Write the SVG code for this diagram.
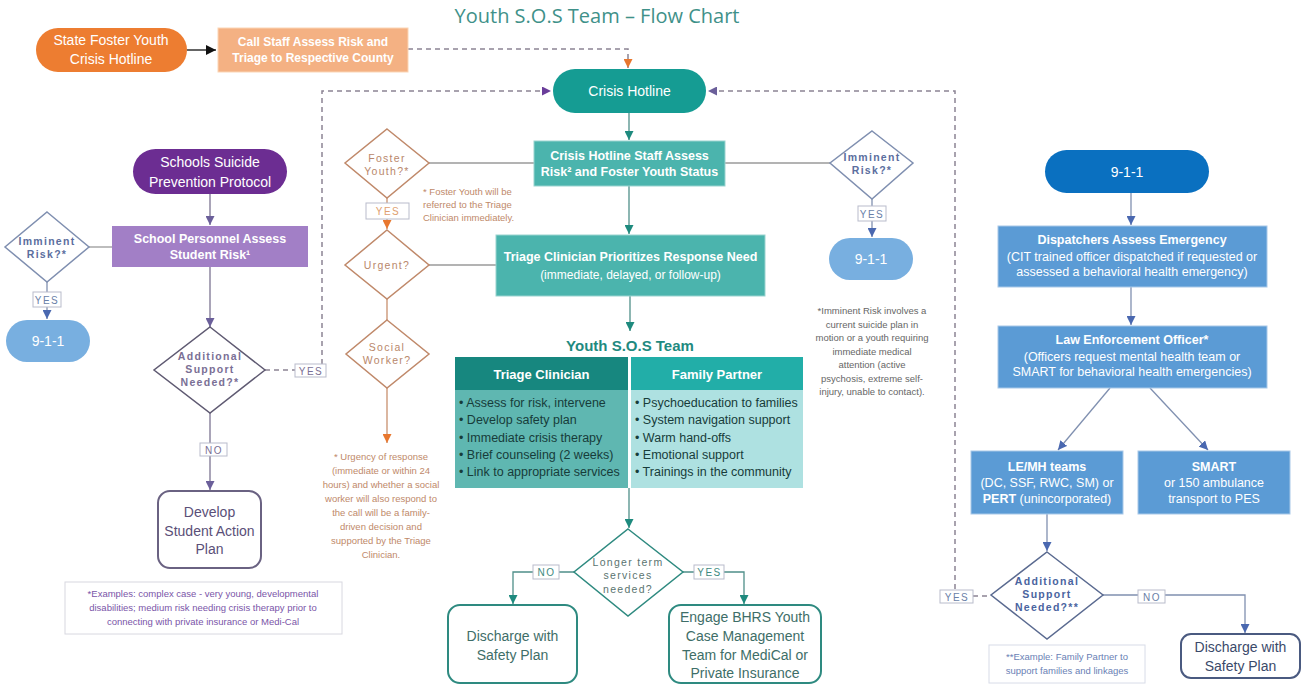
<svg xmlns="http://www.w3.org/2000/svg" width="1302" height="687" viewBox="0 0 1302 687">
<defs>
<style>
text{font-family:"Liberation Sans Narrow","Liberation Sans",Arial,sans-serif}
.m{text-anchor:middle}
.w{fill:#fff}
.b{font-weight:bold}
.dash{fill:none;stroke:#8c8494;stroke-width:1.5;stroke-dasharray:5 4}
.ln{fill:none;stroke:#9a9a9a;stroke-width:1.3}
.teal{fill:none;stroke:#4f8f89;stroke-width:1.3}
.pur{fill:none;stroke:#7b7391;stroke-width:1.3}
.org{fill:none;stroke:#c8906e;stroke-width:1.3}
.blu{fill:none;stroke:#8090b0;stroke-width:1.3}
.lbl{fill:#fff;stroke:#b9bccb;stroke-width:1}
.lt{font-size:10px;letter-spacing:1.5px;text-anchor:middle}
.dt{font-size:10.5px;letter-spacing:1.3px;text-anchor:middle}
.note{font-size:9.5px;text-anchor:middle}
.body{font-size:12.5px;fill:#173c3a}
</style>
<marker id="aK" markerUnits="userSpaceOnUse" markerWidth="10" markerHeight="10" refX="10" refY="5" orient="auto"><path d="M0,0L10,5L0,10z" fill="#111"/></marker>
<marker id="aO" markerUnits="userSpaceOnUse" markerWidth="9" markerHeight="9" refX="9" refY="4.5" orient="auto"><path d="M0,0L9,4.5L0,9z" fill="#e8772e"/></marker>
<marker id="aP" markerUnits="userSpaceOnUse" markerWidth="9" markerHeight="9" refX="9" refY="4.5" orient="auto"><path d="M0,0L9,4.5L0,9z" fill="#6a3d9a"/></marker>
<marker id="aV" markerUnits="userSpaceOnUse" markerWidth="9" markerHeight="9" refX="9" refY="4.5" orient="auto"><path d="M0,0L9,4.5L0,9z" fill="#6b5f9a"/></marker>
<marker id="aT" markerUnits="userSpaceOnUse" markerWidth="9" markerHeight="9" refX="9" refY="4.5" orient="auto"><path d="M0,0L9,4.5L0,9z" fill="#1e8a7e"/></marker>
<marker id="aB" markerUnits="userSpaceOnUse" markerWidth="9" markerHeight="9" refX="9" refY="4.5" orient="auto"><path d="M0,0L9,4.5L0,9z" fill="#4a68b0"/></marker>
</defs>
<rect width="1302" height="687" fill="#fff"/>
<text x="597" y="23" class="m" style="font-family:'Open Sans',sans-serif;font-size:20px;fill:#3f9189">Youth S.O.S Team – Flow Chart</text>

<g id="connectors">
<path class="ln" d="M187,50H216" stroke="#111" style="stroke:#111" marker-end="url(#aK)"/>
<path class="dash" d="M408,49H628V68" marker-end="url(#aO)"/>
<path class="dash" d="M322,364V91H551" marker-end="url(#aP)"/>
<path class="dash" d="M955,589V91H708" marker-end="url(#aV)"/>
<path class="dash" d="M265,370H295"/>
<path class="dash" d="M973,596H991"/>
<path class="teal" d="M629,113V140" marker-end="url(#aT)"/>
<path class="teal" d="M629,186V234" marker-end="url(#aT)"/>
<path class="teal" d="M630,296V331" marker-end="url(#aT)"/>
<path class="ln" d="M534,163H429"/>
<path class="ln" d="M725,163H830"/>
<path class="ln" d="M429,265H496"/>
<path class="org" d="M387,198V229" marker-end="url(#aO)"/>
<path class="org" d="M387,299V320"/>
<path class="org" d="M387,388V443" marker-end="url(#aO)"/>
<path class="blu" d="M872,199V237" marker-end="url(#aB)"/>
<path class="blu" d="M47,282V319" marker-end="url(#aB)"/>
<path class="ln" d="M89,247H112"/>
<path class="pur" d="M210,194V225" marker-end="url(#aV)"/>
<path class="pur" d="M210,267V327" marker-end="url(#aV)"/>
<path class="pur" d="M210,413V490" marker-end="url(#aV)"/>
<path class="teal" d="M629,488V528" marker-end="url(#aT)"/>
<path class="teal" d="M574,572H513V604" marker-end="url(#aT)"/>
<path class="teal" d="M683,572H744V604" marker-end="url(#aT)"/>
<path class="blu" d="M1131,193V225" marker-end="url(#aB)"/>
<path class="blu" d="M1131,287V325" marker-end="url(#aB)"/>
<path class="blu" d="M1110,388L1058,450" marker-end="url(#aB)"/>
<path class="blu" d="M1150,388L1208,450" marker-end="url(#aB)"/>
<path class="blu" d="M1047,514V551" marker-end="url(#aB)"/>
<path class="blu" d="M1103,595H1245V633" marker-end="url(#aB)"/>
<rect class="lbl" x="33" y="292" width="28" height="15"/><text x="47" y="303.5" class="lt" fill="#6a7fa8">YES</text>
<rect class="lbl" x="366" y="203" width="43" height="16"/><text x="388" y="215" class="lt" fill="#e0a070">YES</text>
<rect class="lbl" x="858" y="206" width="28" height="15"/><text x="872" y="217.5" class="lt" fill="#6a7fa8">YES</text>
<rect class="lbl" x="295" y="364" width="31" height="13"/><text x="311" y="374.5" class="lt" fill="#7a6f95">YES</text>
<rect class="lbl" x="200" y="443" width="27" height="13"/><text x="214" y="453.5" class="lt" fill="#7a6f95">NO</text>
<rect class="lbl" x="533" y="565" width="26" height="14"/><text x="546.5" y="576" class="lt" fill="#3e8a80">NO</text>
<rect class="lbl" x="694" y="565" width="30" height="14"/><text x="709.5" y="576" class="lt" fill="#3e8a80">YES</text>
<rect class="lbl" x="940" y="590" width="33" height="13"/><text x="957" y="600.5" class="lt" fill="#6a7fa8">YES</text>
<rect class="lbl" x="1138" y="590" width="27" height="13"/><text x="1152" y="600.5" class="lt" fill="#6a7fa8">NO</text>
</g>

<g id="state-foster-hotline"><rect x="36" y="28" width="151" height="44" rx="22" fill="#ed7d31"/><text x="111" y="45" class="m w" font-size="14">State Foster Youth</text><text x="111" y="64" class="m w" font-size="14">Crisis Hotline</text></g>
<g id="call-staff"><rect x="218" y="28" width="190" height="44" fill="#f4b183" stroke="#fbd5b5"/><text x="313" y="46" class="m w b" font-size="12">Call Staff Assess Risk and</text><text x="313" y="62" class="m w b" font-size="12">Triage to Respective County</text></g>
<g id="crisis-hotline"><rect x="553" y="69" width="153" height="44" rx="22" fill="#159c93"/><text x="629.5" y="96" class="m w" font-size="14">Crisis Hotline</text></g>
<g id="crisis-staff-assess"><rect x="534" y="141" width="191" height="45" fill="#4bb4ad" stroke="#9ad3cf"/><text x="629.5" y="160" class="m w b" font-size="12.5">Crisis Hotline Staff Assess</text><text x="629.5" y="176" class="m w b" font-size="12.5">Risk² and Foster Youth Status</text></g>
<g id="foster-youth"><polygon points="387,129 429,163 387,198 345,163" fill="#fff" stroke="#c0896a" stroke-width="1.5"/><text x="387" y="162" class="dt" fill="#b9876b">Foster</text><text x="387" y="175" class="dt" fill="#b9876b">Youth?*</text></g>
<g id="foster-note"><text x="423" y="195" font-size="9.5" fill="#c0896a">* Foster Youth will be</text><text x="423" y="208" font-size="9.5" fill="#c0896a">referred to the Triage</text><text x="423" y="221" font-size="9.5" fill="#c0896a">Clinician immediately.</text></g>
<g id="urgent"><polygon points="387,230 429,265 387,299 345,265" fill="#fff" stroke="#c0896a" stroke-width="1.5"/><text x="387" y="269" class="dt" fill="#b9876b">Urgent?</text></g>
<g id="social-worker"><polygon points="387,320 429,354 387,388 346,354" fill="#fff" stroke="#c0896a" stroke-width="1.5"/><text x="387" y="351" class="dt" fill="#b9876b">Social</text><text x="387" y="364" class="dt" fill="#b9876b">Worker?</text></g>
<g id="urgency-note" fill="#c0896a"><text x="381" y="460" class="note">* Urgency of response</text><text x="381" y="474" class="note">(immediate or within 24</text><text x="381" y="488" class="note">hours) and whether a social</text><text x="381" y="502" class="note">worker will  also respond to</text><text x="381" y="516" class="note">the call will  be a family-</text><text x="381" y="530" class="note">driven decision and</text><text x="381" y="544" class="note">supported by the Triage</text><text x="381" y="558" class="note">Clinician.</text></g>
<g id="triage-prioritizes"><rect x="496" y="235" width="269" height="61" fill="#4bb4ad" stroke="#9ad3cf"/><text x="630.5" y="261" class="m w b" font-size="12.5">Triage Clinician Prioritizes Response Need</text><text x="630.5" y="279" class="m w" font-size="12">(immediate, delayed, or follow-up)</text></g>
<g id="imminent-risk-center"><polygon points="872,131 913,163 872,199 830,163" fill="#fff" stroke="#7f8fb0" stroke-width="1.5"/><text x="872" y="161" class="dt b" fill="#5b6e9e">Imminent</text><text x="872" y="174" class="dt b" fill="#5b6e9e">Risk?*</text></g>
<g id="n911-center"><rect x="829" y="238" width="84" height="42" rx="21" fill="#78afe0"/><text x="871" y="264" class="m w" font-size="14">9-1-1</text></g>
<g id="imminent-note" fill="#666"><text x="872" y="314" class="note">*Imminent Risk involves a</text><text x="872" y="327.5" class="note">current suicide plan in</text><text x="872" y="341" class="note">motion or a youth requiring</text><text x="872" y="354.5" class="note">immediate medical</text><text x="872" y="368" class="note">attention  (active</text><text x="872" y="381.5" class="note">psychosis, extreme self-</text><text x="872" y="395" class="note">injury, unable to contact).</text></g>
<g id="youth-sos-team">
<text x="630" y="351" class="m b" font-size="15" fill="#1f8a80">Youth S.O.S Team</text>
<rect x="455" y="357" width="173" height="33" fill="#17877f"/><rect x="631" y="357" width="172" height="33" fill="#22aea8"/>
<rect x="455" y="390" width="173" height="98" fill="#5fb7b1"/><rect x="631" y="390" width="172" height="98" fill="#aee1e1"/>
<text x="541.5" y="379" class="m w b" font-size="13">Triage Clinician</text><text x="717" y="379" class="m w b" font-size="13">Family Partner</text>
<text x="459" y="407" class="body">• Assess for risk, intervene</text><text x="459" y="424" class="body">• Develop safety plan</text><text x="459" y="441.5" class="body">• Immediate crisis therapy</text><text x="459" y="459" class="body">• Brief counseling (2 weeks)</text><text x="459" y="476" class="body">• Link to appropriate services</text>
<text x="635" y="407" class="body">• Psychoeducation to families</text><text x="635" y="424" class="body">• System navigation support</text><text x="635" y="441.5" class="body">• Warm hand-offs</text><text x="635" y="459" class="body">• Emotional support</text><text x="635" y="476" class="body">• Trainings in the community</text>
</g>
<g id="longer-term"><polygon points="628,529 683,572 628,616 574,572" fill="#fff" stroke="#2e8a80" stroke-width="1.5"/><text x="628" y="566" class="dt" fill="#5a7470">Longer term</text><text x="628" y="579" class="dt" fill="#5a7470">services</text><text x="628" y="593" class="dt" fill="#5a7470">needed?</text></g>
<g id="discharge-center"><rect x="448" y="605" width="129" height="78" rx="12" fill="#fff" stroke="#2e8a80" stroke-width="2"/><text x="512.5" y="641" class="m" font-size="14" fill="#3e6e68">Discharge with</text><text x="512.5" y="660" class="m" font-size="14" fill="#3e6e68">Safety Plan</text></g>
<g id="engage-bhrs"><rect x="669" y="605" width="152" height="78" rx="12" fill="#fff" stroke="#2e8a80" stroke-width="2"/><text x="745" y="622" class="m" font-size="14" fill="#3e6e68">Engage BHRS Youth</text><text x="745" y="641" class="m" font-size="14" fill="#3e6e68">Case Management</text><text x="745" y="660" class="m" font-size="14" fill="#3e6e68">Team for MediCal or</text><text x="745" y="678" class="m" font-size="14" fill="#3e6e68">Private Insurance</text></g>
<g id="schools-protocol"><rect x="133" y="149" width="154" height="45" rx="22.5" fill="#6c2d92"/><text x="210" y="167" class="m w" font-size="14">Schools Suicide</text><text x="210" y="187" class="m w" font-size="14">Prevention Protocol</text></g>
<g id="school-personnel"><rect x="112" y="226" width="196" height="41" fill="#a27fc6"/><text x="210" y="243" class="m w b" font-size="12.5">School Personnel Assess</text><text x="210" y="259" class="m w b" font-size="12.5">Student Risk¹</text></g>
<g id="imminent-risk-left"><polygon points="47,212 89,247 47,282 5,247" fill="#fff" stroke="#7f8fb0" stroke-width="1.5"/><text x="47" y="245" class="dt b" fill="#5b6e9e">Imminent</text><text x="47" y="258" class="dt b" fill="#5b6e9e">Risk?*</text></g>
<g id="n911-left"><rect x="6" y="320" width="84" height="42" rx="21" fill="#78afe0"/><text x="48" y="346" class="m w" font-size="14">9-1-1</text></g>
<g id="additional-left"><polygon points="210,327 265,370 210,413 154,370" fill="#fff" stroke="#5f5a72" stroke-width="1.5"/><text x="210" y="360" class="dt b" fill="#7a6f95">Additional</text><text x="210" y="373" class="dt b" fill="#7a6f95">Support</text><text x="210" y="386" class="dt b" fill="#7a6f95">Needed?*</text></g>
<g id="student-action-plan"><rect x="158" y="491" width="103" height="77" rx="12" fill="#fff" stroke="#6a6282" stroke-width="2"/><text x="209.5" y="517" class="m" font-size="14" fill="#5a4f78">Develop</text><text x="209.5" y="536" class="m" font-size="14" fill="#5a4f78">Student Action</text><text x="209.5" y="554" class="m" font-size="14" fill="#5a4f78">Plan</text></g>
<g id="examples-left"><rect x="65" y="582" width="277" height="52" fill="#fff" stroke="#d8d8e0"/><text x="203" y="597" class="note" fill="#7a55a8">*Examples: complex case - very young, developmental</text><text x="203" y="611" class="note" fill="#7a55a8">disabilities; medium risk needing crisis therapy prior to</text><text x="203" y="625" class="note" fill="#7a55a8">connecting with private insurance or Medi-Cal</text></g>
<g id="n911-right"><rect x="1045" y="150" width="164" height="43" rx="21.5" fill="#0a70c0"/><text x="1127" y="177" class="m w" font-size="14">9-1-1</text></g>
<g id="dispatchers"><rect x="998" y="226" width="269" height="61" fill="#5b9bd5" stroke="#a8c8e8"/><text x="1132" y="244" class="m w b" font-size="12.5">Dispatchers Assess Emergency</text><text x="1132" y="261" class="m w" font-size="12.5">(CIT  trained officer dispatched if requested or</text><text x="1132" y="276" class="m w" font-size="12.5">assessed a behavioral health emergency)</text></g>
<g id="law-enforcement"><rect x="998" y="326" width="269" height="62" fill="#5b9bd5" stroke="#a8c8e8"/><text x="1132" y="344" class="m w b" font-size="12.5">Law Enforcement Officer*</text><text x="1132" y="361" class="m w" font-size="12.5">(Officers request mental health team or</text><text x="1132" y="376" class="m w" font-size="12.5">SMART  for behavioral health emergencies)</text></g>
<g id="lemh-teams"><rect x="971" y="451" width="152" height="63" fill="#5b9bd5" stroke="#a8c8e8"/><text x="1047" y="471" class="m w b" font-size="12.5">LE/MH teams</text><text x="1047" y="487" class="m w" font-size="12.5">(DC, SSF, RWC, SM) or</text><text x="1047" y="503" class="m w" font-size="12.5"><tspan class="b">PERT</tspan> (unincorporated)</text></g>
<g id="smart"><rect x="1138" y="451" width="152" height="63" fill="#5b9bd5" stroke="#a8c8e8"/><text x="1214" y="471" class="m w b" font-size="12.5">SMART</text><text x="1214" y="487" class="m w" font-size="12.5">or 150 ambulance</text><text x="1214" y="503" class="m w" font-size="12.5">transport to PES</text></g>
<g id="additional-right"><polygon points="1047,552 1103,595 1047,639 991,595" fill="#fff" stroke="#5a6a90" stroke-width="1.5"/><text x="1047" y="585" class="dt b" fill="#4a64a0">Additional</text><text x="1047" y="598" class="dt b" fill="#4a64a0">Support</text><text x="1047" y="611" class="dt b" fill="#4a64a0">Needed?**</text></g>
<g id="example-right"><rect x="989" y="645" width="156" height="38" fill="#fff" stroke="#d8dce8"/><text x="1067" y="660" class="note" fill="#6a7fb5">**Example: Family Partner to</text><text x="1067" y="674" class="note" fill="#6a7fb5">support families and linkages</text></g>
<g id="discharge-right"><rect x="1181" y="634" width="119" height="44" rx="10" fill="#fff" stroke="#4a5a80" stroke-width="2"/><text x="1240.5" y="652" class="m" font-size="14" fill="#3a4a6a">Discharge with</text><text x="1240.5" y="671" class="m" font-size="14" fill="#3a4a6a">Safety Plan</text></g>
</svg>
